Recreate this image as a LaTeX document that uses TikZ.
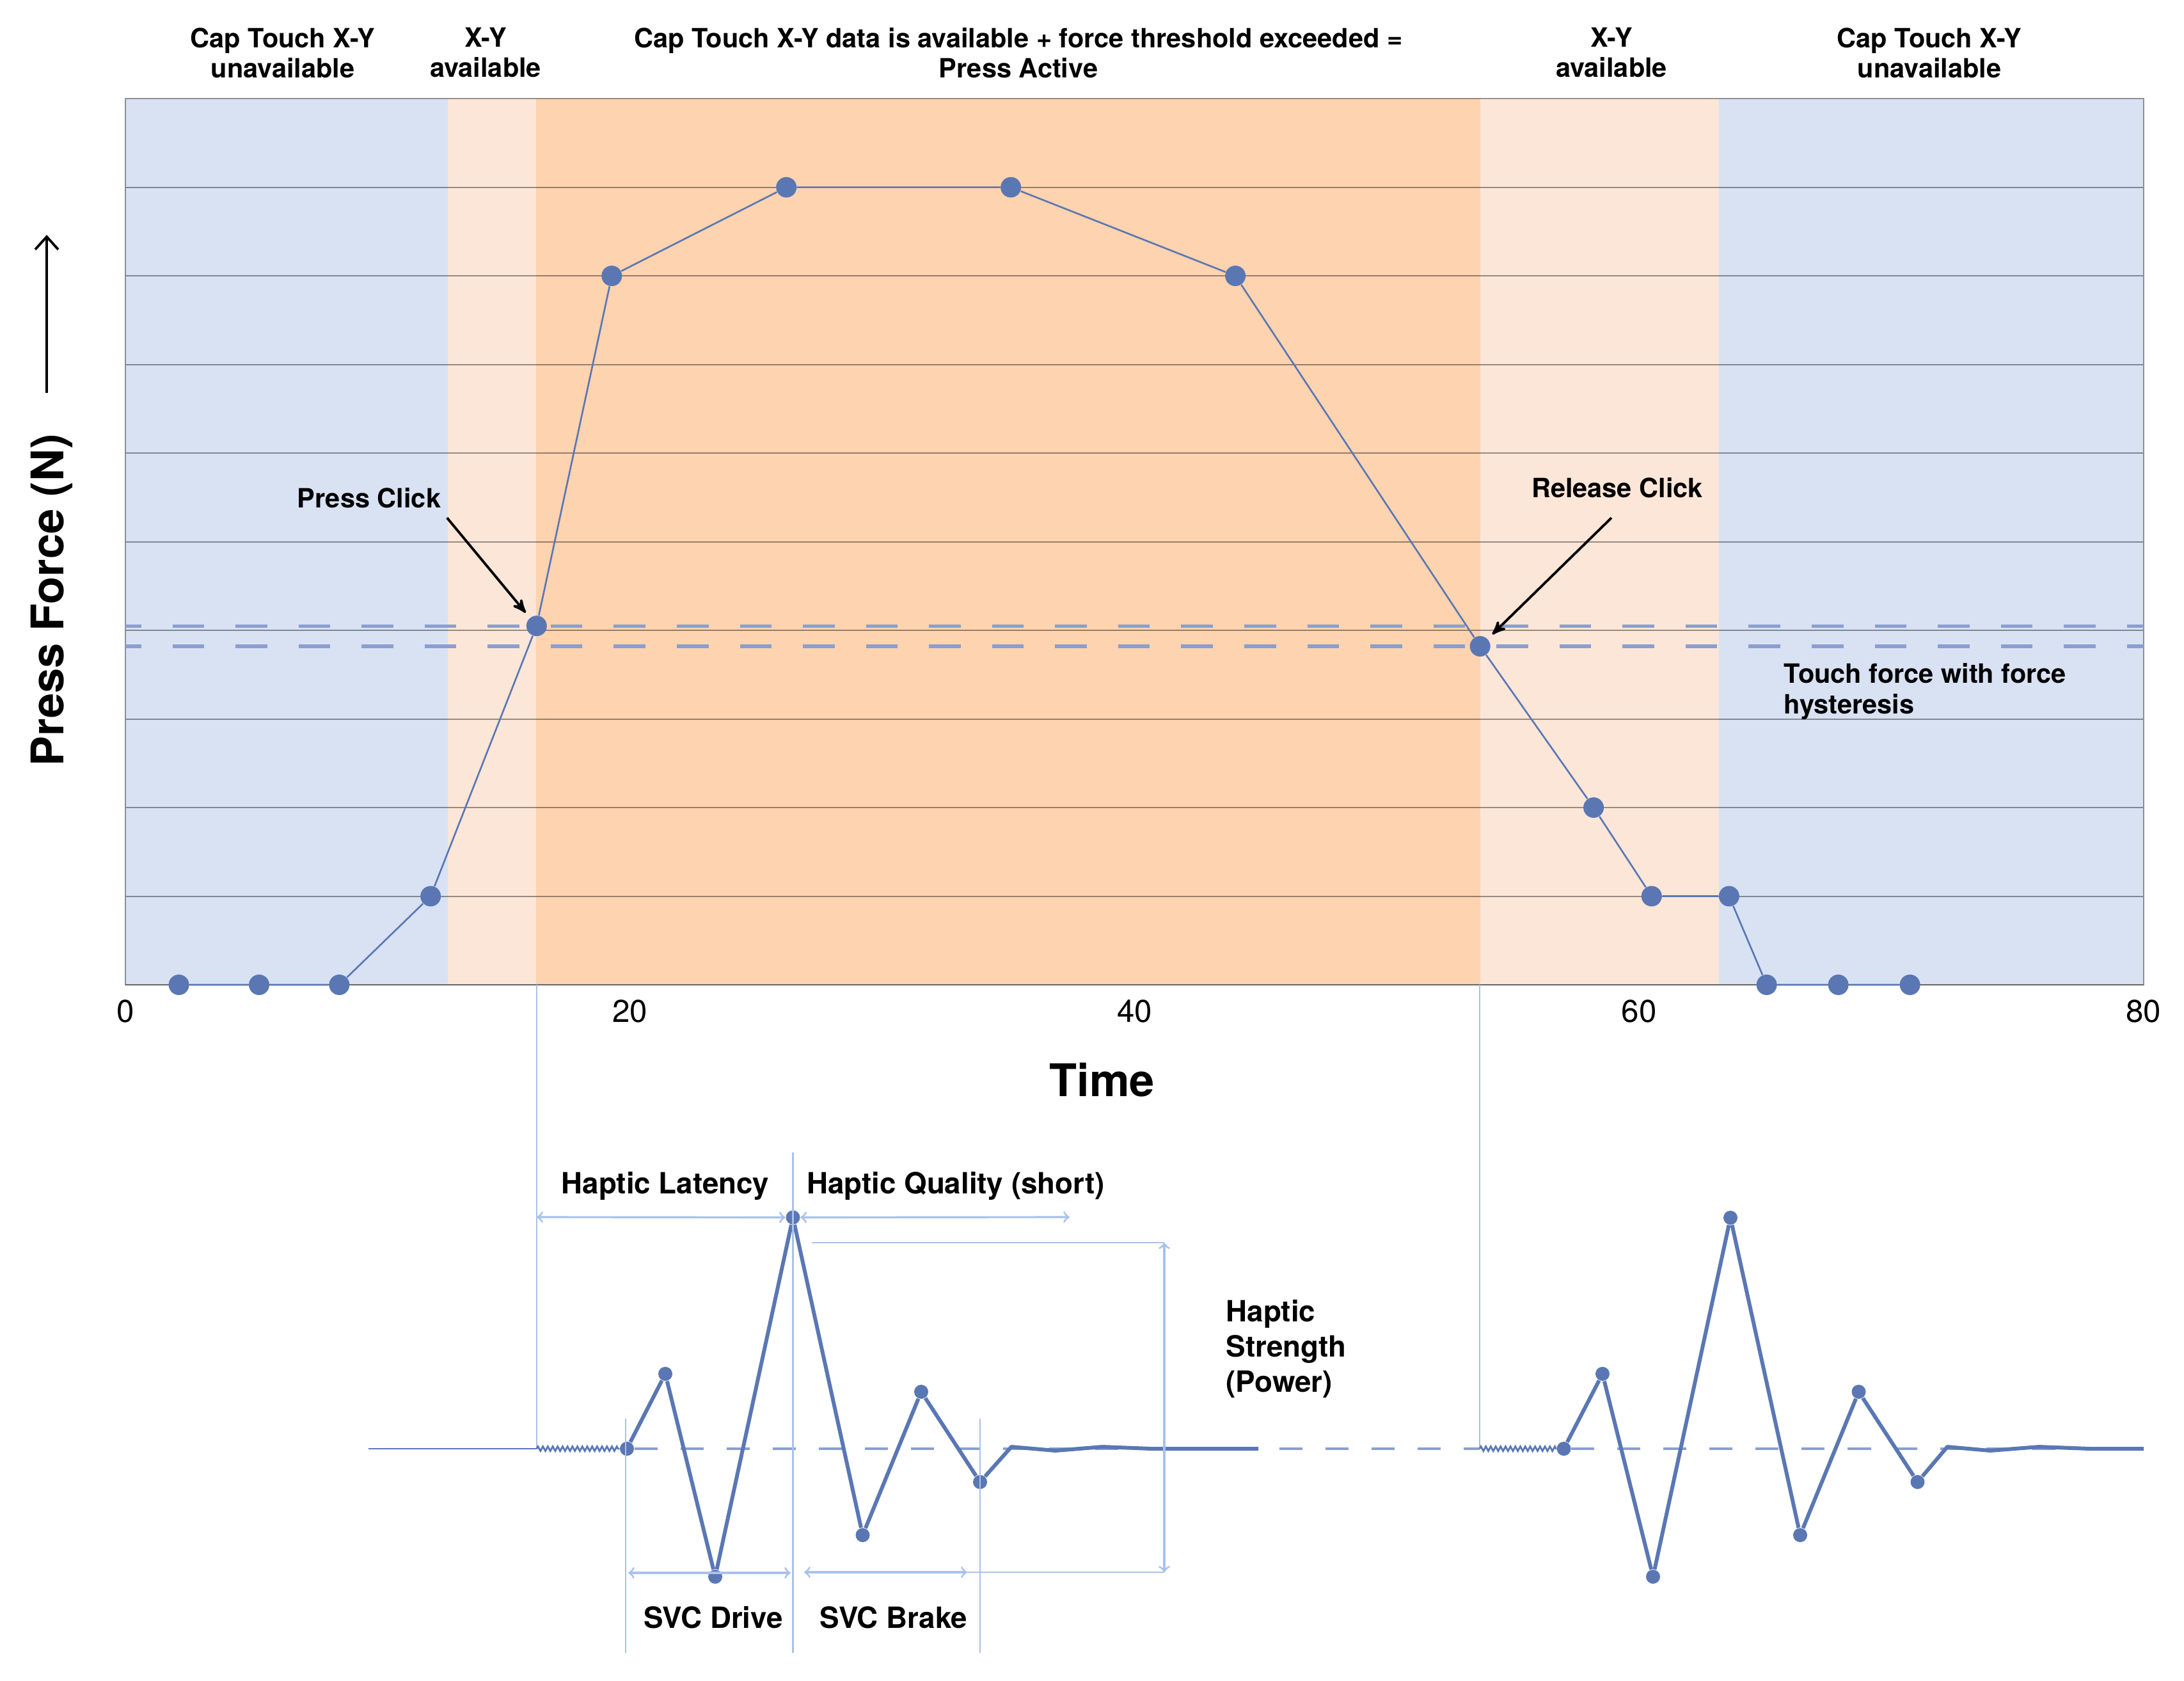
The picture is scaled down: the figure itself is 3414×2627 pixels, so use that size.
\documentclass[tikz,border=0pt]{standalone}
\usepackage{fontspec}
\setmainfont{TeX Gyre Heros}
\usepackage{tikz}
\usetikzlibrary{arrows, arrows.meta, positioning, decorations.pathmorphing}
\definecolor{colorUnavail}{HTML}{D8E2F3}
\definecolor{colorAvail}{HTML}{FCE6D8}
\definecolor{colorActive}{HTML}{FDD3B0}
\definecolor{colorForce}{HTML}{5A77B4}
\definecolor{colorHyst}{HTML}{8A9ED1}
\definecolor{colorDim}{HTML}{A9C1EC}
\tikzset{
  topLbl/.style={font=\fontsize{11.8}{13.3}\selectfont\bfseries, inner sep=0pt, align=center},
  noteLbl/.style={font=\fontsize{11.8}{13.6}\selectfont\bfseries, inner sep=0pt, align=left},
  dimLbl/.style={font=\fontsize{13}{15.6}\selectfont\bfseries, inner sep=0pt, align=left},
  axisLbl/.style={font=\fontsize{20}{24}\selectfont\bfseries, inner sep=0pt},
  tickLbl/.style={font=\fontsize{14}{16}\selectfont, inner sep=0pt},
  forceDot/.style={circle, fill=colorForce, inner sep=0pt, minimum size=0.32cm},
  waveDot/.style={circle, fill=colorForce, inner sep=0pt, minimum size=0.22cm},
  gridLine/.style={draw=black, draw opacity=0.4, line width=0.55pt},
  hyst/.style={colorHyst, line width=1.5pt, dash pattern=on 0.495cm off 0.49cm, dash phase=0.25cm},
  waveBase/.style={colorHyst, line width=1pt, dash pattern=on 0.36cm off 0.36cm},
  wave/.style={colorForce, line width=1.7pt, line join=round},
  spring/.style={colorForce, line width=0.8pt, decorate, decoration={zigzag, segment length=0.077cm, amplitude=0.035cm}},
  dim/.style={colorDim, line width=0.6pt},
  dimArrow/.style={colorDim, line width=0.9pt, >=to, <->},
}

\begin{document}
\begin{tikzpicture}[>=stealth', x=0.01cm, y=-0.01cm]
\useasboundingbox (0,0) rectangle (3414,2627);

% force plot
\begin{scope}[shift={(196,1539)}, x=0.39412cm, y=1.384cm]
\fill[colorUnavail] (0,0) rectangle (12.77,10);
\fill[colorAvail] (12.77,0) rectangle (16.29,10);
\fill[colorActive] (16.29,0) rectangle (53.7,10);
\fill[colorAvail] (53.7,0) rectangle (63.16,10);
\fill[colorUnavail] (63.16,0) rectangle (80,10);
\draw[gridLine] (0,1) -- (80,1) (0,2) -- (80,2) (0,3) -- (80,3) (0,4) -- (80,4) (0,5) -- (80,5)
  (0,6) -- (80,6) (0,7) -- (80,7) (0,8) -- (80,8) (0,9) -- (80,9) (0,0) rectangle (80,10);
\draw[black!60, line width=0.6pt] (0,0) -- (80,0);
\draw[hyst] (0,4.05) -- (80,4.05);
\draw[hyst] (0,3.82) -- (80,3.82);

\node[forceDot] (p1) at (2.12,0) {};
\node[forceDot] (p2) at (5.3,0) {};
\node[forceDot] (p3) at (8.48,0) {};
\node[forceDot] (p4) at (12.1,1) {};
\node[forceDot] (p5) at (16.3,4.05) {};
\node[forceDot] (p6) at (19.28,8) {};
\node[forceDot] (p7) at (26.2,9) {};
\node[forceDot] (p8) at (35.1,9) {};
\node[forceDot] (p9) at (44.0,8) {};
\node[forceDot] (p10) at (53.7,3.82) {};
\node[forceDot] (p11) at (58.2,2) {};
\node[forceDot] (p12) at (60.5,1) {};
\node[forceDot] (p13) at (63.57,1) {};
\node[forceDot] (p14) at (65.06,0) {};
\node[forceDot] (p15) at (67.9,0) {};
\node[forceDot] (p16) at (70.74,0) {};
\draw[colorForce, line width=0.75pt] (p1) -- (p2) -- (p3) -- (p4) -- (p5) -- (p6) -- (p7) -- (p8)
  -- (p9) -- (p10) -- (p11) -- (p12) -- (p13) -- (p14) -- (p15) -- (p16);

\node[tickLbl, anchor=base] (t0) at (0,-0.419) {0};
\node[tickLbl, anchor=base] (t20) at (20,-0.419) {20};
\node[tickLbl, anchor=base] (t40) at (40,-0.419) {40};
\node[tickLbl, anchor=base] (t60) at (60,-0.419) {60};
\node[tickLbl, anchor=base] (t80) at (80,-0.419) {80};
\node[axisLbl, anchor=base] (time) at (38.72,-1.257) {Time};
\end{scope}

% headings
\node[topLbl, anchor=north] (hUnavailL) at (442,43) {Cap Touch X-Y\\unavailable};
\node[topLbl, anchor=north] (hAvailL) at (759,43) {X-Y\\available};
\node[topLbl, anchor=north] (hActive) at (1592,43) {Cap Touch X-Y data is available + force threshold exceeded =\\Press Active};
\node[topLbl, anchor=north] (hAvailR) at (2519,43) {X-Y\\available};
\node[topLbl, anchor=north] (hUnavailR) at (3016,43) {Cap Touch X-Y\\unavailable};

\node[axisLbl, rotate=90] (force) at (81,938) {Press Force (N)};
\coordinate (forceArrow0) at (73,614);
\coordinate (forceArrow1) at (73,367);
\draw[-{Straight Barb[length=0.2cm, width=0.36cm]}, line width=1.1pt] (forceArrow0) -- (forceArrow1);

\node[noteLbl, anchor=base] (pressClick) at (577,793) {Press Click};
\node[noteLbl, anchor=base] (releaseClick) at (2528,777) {Release Click};
\node[noteLbl, anchor=north west] (hystNote) at (2788,1036) {Touch force with force\\hysteresis};
\draw[->, line width=1.1pt, shorten >=0.1cm] ([xshift=0.09cm, yshift=-0.15cm]pressClick.south east) -- (p5);
\draw[->, line width=1.1pt, shorten >=0.1cm] ([xshift=-0.09cm, yshift=-0.31cm]releaseClick.south) -- (p10);

% haptic waveforms
\coordinate (pressT) at (839,1539);
\coordinate (releaseT) at (2313,1539);
\coordinate (base0) at (576,2264);
\coordinate (a0) at (839,2264);
\coordinate (b0) at (2313,2264);
\node[waveDot] (a1) at (980,2264) {};
\node[waveDot] (a2) at (1040,2147) {};
\node[waveDot] (a3) at (1118,2464) {};
\node[waveDot] (a4) at (1239.5,1902.5) {};
\node[waveDot] (a5) at (1348.5,2399) {};
\node[waveDot] (a6) at (1440,2175) {};
\node[waveDot] (a7) at (1532,2316) {};
\coordinate (a8) at (1581,2261);
\coordinate (a9) at (1650,2267);
\coordinate (a10) at (1723,2261);
\coordinate (a11) at (1800,2264);
\coordinate (a12) at (1967,2264);
\node[waveDot] (b1) at (2444.5,2264) {};
\node[waveDot] (b2) at (2505,2147) {};
\node[waveDot] (b3) at (2584,2464) {};
\node[waveDot] (b4) at (2705,1903) {};
\node[waveDot] (b5) at (2814,2399) {};
\node[waveDot] (b6) at (2905.5,2175) {};
\node[waveDot] (b7) at (2997.5,2316) {};
\coordinate (b8) at (3044,2261);
\coordinate (b9) at (3111,2267);
\coordinate (b10) at (3187,2261);
\coordinate (b11) at (3267,2264);
\coordinate (b12) at (3351,2264);

\draw[dim] (pressT) -- (a0);
\draw[dim] (releaseT) -- (b0);
\draw[waveBase] (a1) -- (b0);
\draw[waveBase] (b1) -- (b12);
\draw[colorForce, line width=0.6pt] (base0) -- (a0);
\draw[spring] (a0) -- (a1);
\draw[spring] (b0) -- (b1);
\draw[wave] (a1) -- (a2) -- (a3) -- (a4) -- (a5) -- (a6) -- (a7) -- (a8) -- (a9) -- (a10) -- (a11) -- (a12);
\draw[wave] (b1) -- (b2) -- (b3) -- (b4) -- (b5) -- (b6) -- (b7) -- (b8) -- (b9) -- (b10) -- (b11) -- (b12);

% dimensions
\coordinate (driveL0) at (978,2217);
\coordinate (driveL1) at (978,2583);
\coordinate (peakL0) at (1239.5,1801);
\coordinate (peakL1) at (1239.5,2583);
\coordinate (brakeL0) at (1532,2217);
\coordinate (brakeL1) at (1532,2583);
\draw[dim] (driveL0) -- (driveL1);
\draw[dim] (peakL0) -- (peakL1);
\draw[dim] (brakeL0) -- (brakeL1);

\coordinate (latency0) at (839,1902);
\coordinate (quality1) at (1672,1902);
\draw[dimArrow] (latency0) -- (a4);
\draw[dimArrow] (a4) -- (quality1);

\coordinate (strength0) at (1269,1942);
\coordinate (strength1) at (1820,1942);
\coordinate (strength2) at (1820,2457);
\coordinate (strength3) at (1512,2457);
\draw[dim] (strength0) -- (strength1);
\draw[dimArrow] (strength1) -- (strength2);
\draw[dim] (strength3) -- (strength2);

\coordinate (drive0) at (982,2458);
\coordinate (drive1) at (1236,2458);
\coordinate (brake0) at (1257,2457);
\coordinate (brake1) at (1512,2457);
\draw[dimArrow] (drive0) -- (drive1);
\draw[dimArrow] (brake0) -- (brake1);

\node[dimLbl, anchor=base] (latencyLbl) at (1040,1865) {Haptic Latency};
\node[dimLbl, anchor=base] (qualityLbl) at (1494,1865) {Haptic Quality (short)};
\node[dimLbl, anchor=north west] (strengthLbl) at (1916,2031) {Haptic\\Strength\\(Power)};
\node[dimLbl, anchor=base] (driveLbl) at (1115,2544) {SVC Drive};
\node[dimLbl, anchor=base] (brakeLbl) at (1397,2544) {SVC Brake};
\end{tikzpicture}
\end{document}
